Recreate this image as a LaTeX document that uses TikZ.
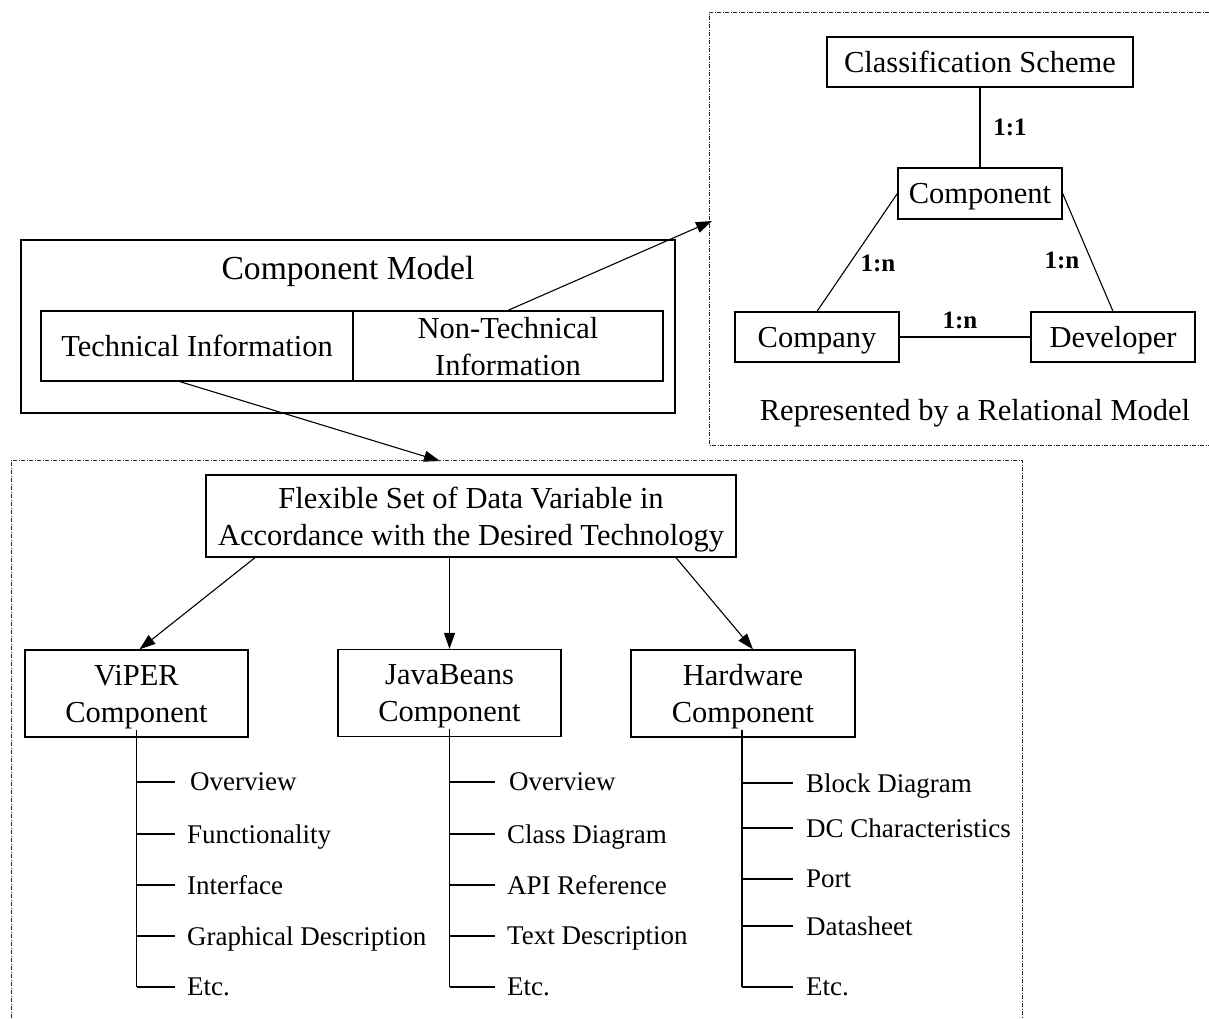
\documentclass[tikz,border=0pt]{standalone}
\usepackage{fontspec}
\setmainfont{Liberation Serif}
\usetikzlibrary{arrows.meta,calc}
\begin{document}
\begin{tikzpicture}[x=1pt,y=-1pt,
  capc/.style={text depth=0pt},
  box/.style={draw,line width=1.3pt,inner sep=0pt,align=center,capc,
    font=\fontsize{30.5}{37}\selectfont},
  link/.style={line width=1.1pt},
  arr/.style={line width=1.1pt,-{Triangle[length=16pt,width=11pt]}},
  card/.style={inner sep=0pt,capc,font=\fontsize{25}{30}\selectfont\bfseries},
  frame/.style={line width=0.9pt,draw=black!85,
    dash pattern=on 4pt off 1.5pt on 1pt off 1.5pt},
  trunk/.style={line width=1.8pt},
  twig/.style={line width=1.3pt},
  leaf/.style={anchor=west,inner sep=0pt,capc,
    font=\fontsize{27}{32}\selectfont},
]
\useasboundingbox (0,0) rectangle (1209,1018);

% ---------- relational part (upper right) ----------
\draw[frame] (1209,12) -- (709,12) -- (709,445) -- (1209,445);
\node[box,minimum width=306pt,minimum height=50pt] (cs)   at (980,62)    {Classification Scheme};
\node[box,minimum width=164pt,minimum height=51pt] (comp) at (980,193.5) {Component};
\node[box,minimum width=164pt,minimum height=50pt] (cpny) at (817,337)   {Company};
\node[box,minimum width=164pt,minimum height=50pt] (dev)  at (1113,337)  {Developer};
\draw[link] (cs.south) -- (comp.north);
\draw[link] (comp.west) -- (cpny.north);
\draw[link] (comp.east) -- (dev.north);
\draw[link] (cpny.east) -- (dev.west);
\node[card] (c11) at (1010,127) {1:1};
\node[card] (c1n) at (878,263) {1:n};
\node[card] (c2n) at (1062,260) {1:n};
\node[card] (c3n) at (960,320) {1:n};
\node[capc,font=\fontsize{30.5}{37}\selectfont,inner sep=0pt] (relcap) at (975,410)
  {Represented by a Relational Model};

% ---------- component model ----------
\node[draw,line width=1.3pt,inner sep=0pt,minimum width=654pt,minimum height=173pt]
  (cmodel) at (348,326.5) {};
\node[capc,inner sep=0pt,font=\fontsize{33.6}{40}\selectfont] (cmtitle) at (348,268) {Component Model};
\node[box,minimum width=312pt,minimum height=70pt] (tinfo)  at (197,346) {Technical Information};
\node[box,minimum width=310pt,minimum height=70pt] (ntinfo) at (508,346) {Non-Technical\\Information};

\coordinate (relin)  at (712,221);
\coordinate (techin) at (440,461);
\draw[arr] (ntinfo.north) -- (relin);
\draw[arr] ([xshift=-17pt]tinfo.south) -- (techin);

% ---------- technical part (bottom) ----------
\draw[frame] (11,1018) -- (11,460) -- (1022,460) -- (1022,1018);
\node[box,minimum width=530pt,minimum height=82pt] (flex) at (471,516)
  {Flexible Set of Data Variable in\\Accordance with the Desired Technology};
\node[box,minimum width=223pt,minimum height=87pt] (viper) at (136.5,693.5) {ViPER\\Component};
\node[box,minimum width=223pt,minimum height=87pt] (java)  at (449.5,693)   {JavaBeans\\Component};
\node[box,minimum width=224pt,minimum height=87pt] (hw)    at (743,693.5)   {Hardware\\Component};

\draw[arr] ([xshift=-216pt]flex.south) -- ([xshift=3pt]viper.north);
\draw[arr] (java.north |- flex.south) -- (java.north);
\draw[arr] ([xshift=205pt]flex.south) -- ([xshift=10pt]hw.north);

% ViPER tree
\draw[trunk] ([yshift=8pt]viper.south) -- (viper.south |- 0,987);
\foreach \y/\x/\t [count=\i] in {782/190/Overview, 834/187/Functionality, 885/187/Interface,
    936/187/Graphical Description, 987/187/Etc.}{
  \draw[twig] (136.5,\y) -- (175,\y);
  \node[leaf] (v\i) at (\x,\y) {\t};
}

% JavaBeans tree
\draw[trunk] ([yshift=8pt]java.south) -- (java.south |- 0,987);
\foreach \y/\x/\t [count=\i] in {782/509/Overview, 834/507/Class Diagram, 885/507/API Reference,
    936/507/Text Description, 987/507/Etc.}{
  \draw[twig] (449.5,\y) -- (495,\y);
  \node[leaf] (j\i) at (\x,\y) {\t};
}

% Hardware tree
\draw[trunk] ([yshift=8pt,xshift=-1pt]hw.south) -- (742,987);
\foreach \y/\t [count=\i] in {783/Block Diagram, 828/DC Characteristics, 879/Port,
    926/Datasheet, 987/Etc.}{
  \draw[twig] (742,\y) -- (793,\y);
  \node[leaf] (h\i) at (806,\y) {\t};
}
\end{tikzpicture}
\end{document}
